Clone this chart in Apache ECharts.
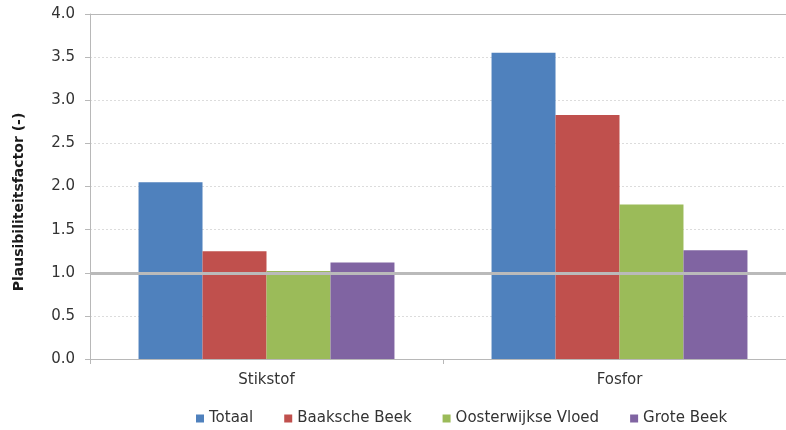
<!DOCTYPE html>
<html>
<head>
<meta charset="utf-8">
<script src="https://cdn.jsdelivr.net/npm/echarts@6/dist/echarts.min.js"></script>
<style>
  html, body { margin: 0; padding: 0; background: #ffffff; overflow: hidden; }
  /* the plot area runs a little past the right edge of the page */
  #chart { width: 800px; height: 430px; }
</style>
</head>
<body>
<div id="chart"></div>
<script>
// Categories and series values
var categories = ['Stikstof', 'Fosfor'];
var seriesNames = ['Totaal', 'Baaksche Beek', 'Oosterwijkse Vloed', 'Grote Beek'];
var totaal = [2.05, 3.55];
var baakscheBeek = [1.25, 2.83];
var oosterwijkseVloed = [1.02, 1.79];
var groteBeek = [1.12, 1.26];
var referenceLevel = 1.0;
var yTicks = { min: 0, max: 4, interval: 0.5 };
var yTitle = 'Plausibiliteitsfactor (-)';

var colors = ['#4f81bd', '#c0504d', '#9bbb59', '#8064a2'];
var values = [totaal, baakscheBeek, oosterwijkseVloed, groteBeek];
var font = 'DejaVu Sans';
var axisGray = '#b8b8b8';

var series = seriesNames.map(function (name, i) {
  return {
    name: name,
    type: 'bar',
    data: values[i],
    barGap: '0%',
    barCategoryGap: '27.5%',
    itemStyle: { color: colors[i] },
    emphasis: { disabled: true }
  };
});

// Solid top border of the plot and the reference line at factor 1.0 (above the bars)
series.push({
  name: 'ref',
  type: 'line',
  data: [],
  z: 10,
  silent: true,
  markLine: {
    symbol: 'none',
    silent: true,
    label: { show: false },
    data: [
      { yAxis: yTicks.max, lineStyle: { color: axisGray, width: 1, type: 'solid' } },
      { yAxis: referenceLevel, lineStyle: { color: '#bababa', width: 3, type: 'solid' } }
    ]
  }
});

var chart = echarts.init(document.getElementById('chart'), null, { renderer: 'canvas' });
chart.setOption({
  animation: false,
  textStyle: { fontFamily: font },
  grid: { left: 90, top: 14, right: 4, bottom: 71 },
  graphic: [{
    type: 'text',
    x: 19, y: 202,
    rotation: Math.PI / 2,
    style: {
      text: yTitle,
      font: 'bold 14px "DejaVu Sans"',
      fill: '#1a1a1a',
      align: 'center',
      verticalAlign: 'middle'
    }
  }],
  legend: {
    data: seriesNames,
    top: 406,
    left: 191,
    itemWidth: 8,
    itemHeight: 8,
    itemGap: 31,
    icon: 'rect',
    textStyle: { fontFamily: font, fontSize: 15, color: '#333333' }
  },
  xAxis: {
    type: 'category',
    data: categories,
    axisLine: { lineStyle: { color: axisGray, width: 1 } },
    axisTick: { show: true, length: 5, lineStyle: { color: axisGray } },
    axisLabel: { fontFamily: font, fontSize: 15, color: '#333333', margin: 14 }
  },
  yAxis: {
    type: 'value',
    min: yTicks.min,
    max: yTicks.max,
    interval: yTicks.interval,
    axisLine: { show: true, lineStyle: { color: axisGray, width: 1 } },
    axisTick: { show: true, length: 5, lineStyle: { color: axisGray } },
    axisLabel: {
      fontFamily: font, fontSize: 15, color: '#333333', margin: 15,
      formatter: function (v) { return v.toFixed(1); }
    },
    splitLine: { show: true, lineStyle: { color: '#dcdcdc', type: [2, 2], width: 1 } }
  },
  series: series
});
</script>
</body>
</html>
